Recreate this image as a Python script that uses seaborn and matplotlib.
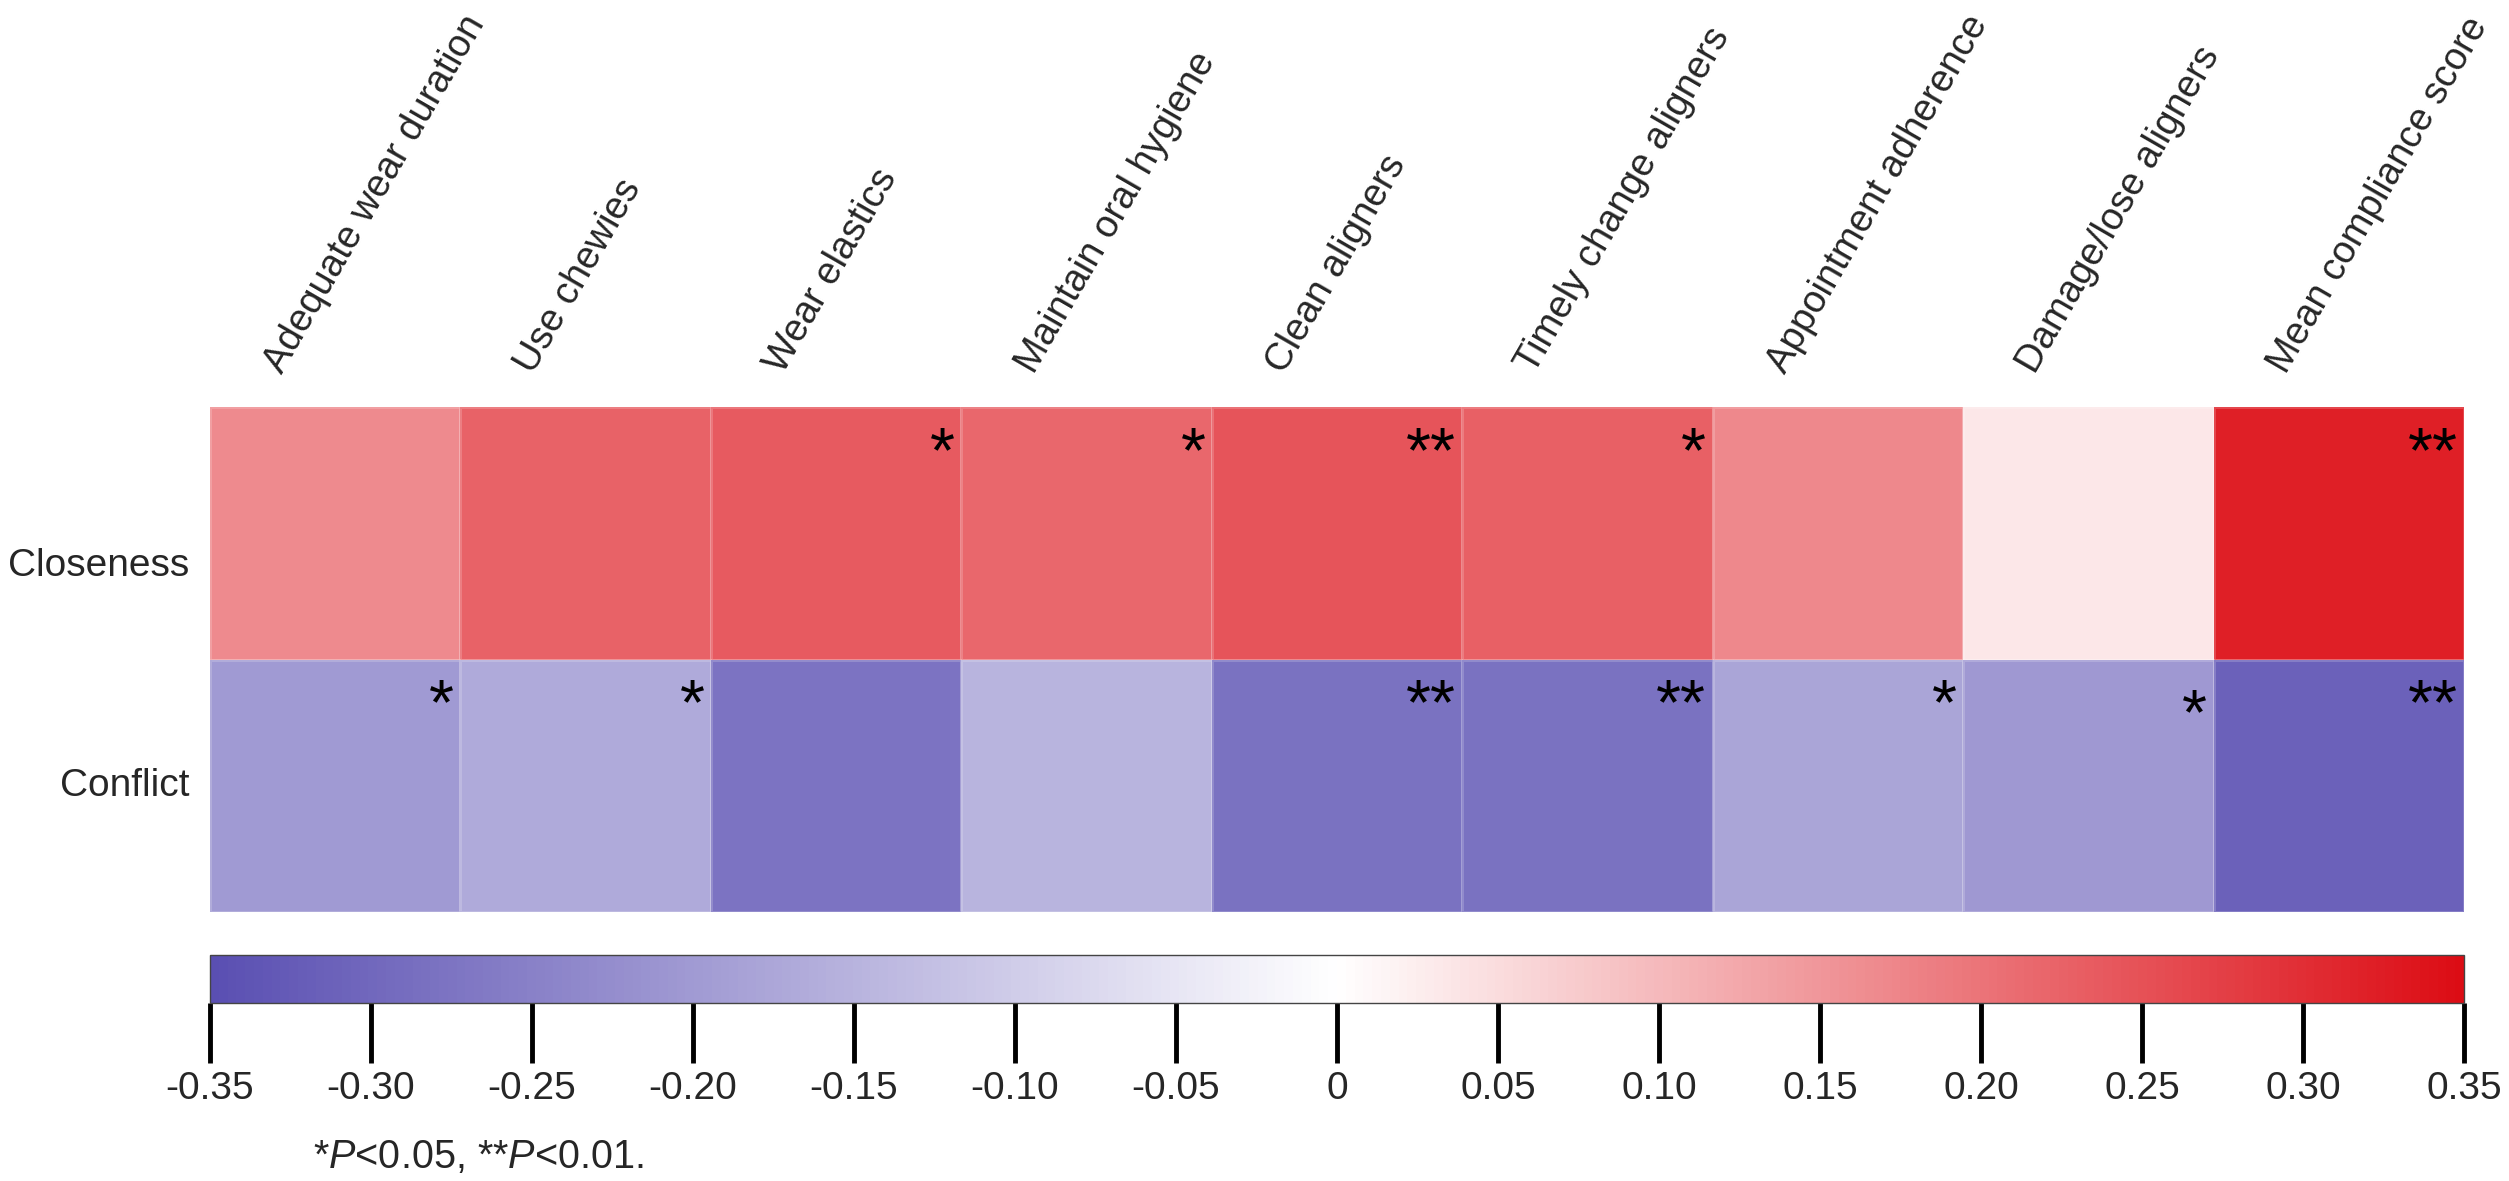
import numpy as np
import pandas as pd
import seaborn as sns
import matplotlib
matplotlib.use("Agg")
import matplotlib.pyplot as plt
from matplotlib.colors import LinearSegmentedColormap
from matplotlib.transforms import ScaledTranslation

# ---- data ----
categories = ["Adequate wear duration", "Use chewies", "Wear elastics",
              "Maintain oral hygiene", "Clean aligners", "Timely change aligners",
              "Appointment adherence", "Damage/lose aligners", "Mean compliance score"]
rows = ["Closeness", "Conflict"]
closeness = [0.167, 0.226, 0.236, 0.217, 0.246, 0.228, 0.171, 0.035, 0.321]
conflict = [-0.200, -0.168, -0.278, -0.148, -0.280, -0.280, -0.178, -0.203, -0.314]
closeness_sig = ["", "", "*", "*", "**", "*", "", "", "**"]
conflict_sig = ["*", "*", "", "", "**", "**", "*", "*", "**"]
cbar_ticks = [-0.35, -0.30, -0.25, -0.20, -0.15, -0.10, -0.05, 0, 0.05, 0.10, 0.15, 0.20, 0.25, 0.30, 0.35]
cbar_labels = ["-0.35", "-0.30", "-0.25", "-0.20", "-0.15", "-0.10", "-0.05", "0",
               "0.05", "0.10", "0.15", "0.20", "0.25", "0.30", "0.35"]
footnote = r"*$\it{P}$<0.05, **$\it{P}$<0.01."

sns.set_style("white")
plt.rcParams['font.family'] = ['Liberation Sans', 'DejaVu Sans']
plt.rcParams['mathtext.fontset'] = 'custom'
plt.rcParams['mathtext.rm'] = 'Liberation Sans'
plt.rcParams['mathtext.it'] = 'Liberation Sans:italic'

df = pd.DataFrame([closeness, conflict], index=rows, columns=categories)
sig = [closeness_sig, conflict_sig]

cmap = LinearSegmentedColormap.from_list("bwr_custom", ["#5a4fb2", "#ffffff", "#dc0c14"])

W, H = 2509, 1181
fig = plt.figure(figsize=(W / 100, H / 100), dpi=100)
ax = fig.add_axes([210 / W, 1 - 912 / H, (2464 - 210) / W, (912 - 407) / H])
cax = fig.add_axes([210 / W, 1 - 1003 / H, (2464 - 210) / W, (1003 - 955) / H])

sns.heatmap(df, ax=ax, cmap=cmap, vmin=-0.35, vmax=0.35, center=0,
            linewidths=1, linecolor=(1, 1, 1, 0.18),
            cbar=True, cbar_ax=cax, cbar_kws={"orientation": "horizontal"})

# significance stars
for r in range(len(rows)):
    for c in range(len(categories)):
        s = sig[r][c]
        if s:
            dy = 0.19
            if r == 1 and c == 7:
                dy = 0.23
            ax.text(c + 1 - 0.025, r + dy, s, ha="right", va="center",
                    fontsize=46, color="black")

# column labels on top
ax.xaxis.tick_top()
ax.tick_params(axis="x", length=0, pad=0, top=True, bottom=False)
ax.set_xticks(np.arange(len(categories)) + 0.5)
ax.set_xticklabels(categories, rotation=60, ha="left", va="bottom",
                   rotation_mode="anchor", fontsize=27.5)
off = ScaledTranslation(-0.46, 0.28, fig.dpi_scale_trans)
for lab in ax.get_xticklabels():
    lab.set_transform(lab.get_transform() + off)

ax.tick_params(axis="y", length=0, pad=15)
ax.set_yticklabels(rows, rotation=0, fontsize=28)
ylabs = ax.get_yticklabels()
ylabs[0].set_transform(ylabs[0].get_transform() + ScaledTranslation(0, -0.33, fig.dpi_scale_trans))
ax.set_xlabel("")
ax.set_ylabel("")

# colorbar
cax.set_xticks(cbar_ticks)
cax.set_xticklabels(cbar_labels, fontsize=28)
cax.tick_params(axis="x", direction="out", length=43, width=3.5, pad=6, color="black")
cax.xaxis.set_ticks_position("bottom")
cb = ax.collections[0].colorbar
cb.outline.set_linewidth(1.0)
cb.outline.set_edgecolor("#444444")

fig.text(313 / W, 1 - 1157 / H, footnote, ha="left", va="center", fontsize=28.5)

fig.savefig("out.png", dpi=100)
